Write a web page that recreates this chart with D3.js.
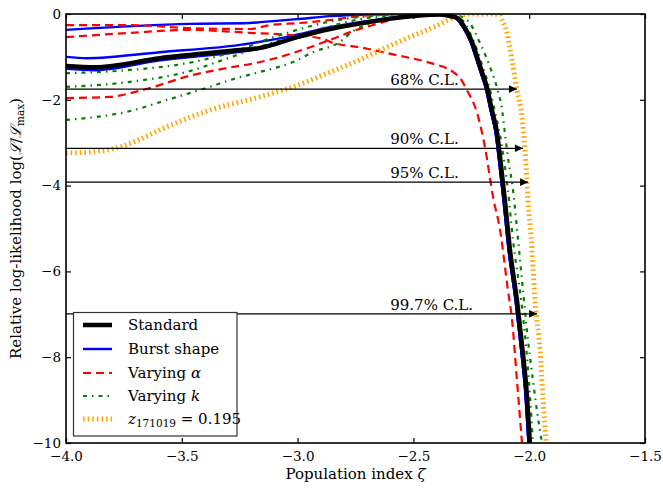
<!DOCTYPE html>
<html><head><meta charset="utf-8">
<script src="https://cdn.jsdelivr.net/npm/d3@7"></script>
<style>body{margin:0;background:#fff}svg{display:block}</style>
</head><body>
<svg id="c" width="663" height="489"></svg>
<script>
// ---------- data ----------
const xTicks = [-4.0, -3.5, -3.0, -2.5, -2.0, -1.5];
const yTicks = [0, -2, -4, -6, -8, -10];

const standard = [[-4.000,-1.21],[-3.875,-1.24],[-3.594,-1.03],[-3.249,-0.84],[-3.162,-0.79],[-3.003,-0.54],[-2.860,-0.35],[-2.718,-0.21],[-2.571,-0.09],[-2.428,-0.02],[-2.385,-0.01],[-2.342,-0.05],[-2.312,-0.09],[-2.277,-0.33],[-2.247,-0.65],[-2.225,-1.00],[-2.204,-1.35],[-2.182,-1.72],[-2.161,-2.24],[-2.139,-2.77],[-2.126,-3.33],[-2.105,-4.34],[-2.083,-5.50],[-2.053,-6.67],[-2.031,-7.72],[-2.010,-8.88],[-1.997,-10.0]];

const burstA = [[-4.000,-0.37],[-3.465,-0.23],[-3.206,-0.21],[-3.162,-0.19],[-3.003,-0.12],[-2.860,-0.05],[-2.687,-0.01],[-2.558,0],[-2.430,0],[-2.360,-0.03],[-2.318,-0.09],[-2.283,-0.33],[-2.253,-0.65],[-2.231,-1.00],[-2.210,-1.35],[-2.188,-1.72],[-2.167,-2.24],[-2.145,-2.77],[-2.132,-3.33],[-2.111,-4.34],[-2.089,-5.50],[-2.059,-6.67],[-2.037,-7.72],[-2.016,-8.88],[-2.003,-10.0]];
const burstB = [[-4.000,-1.00],[-3.909,-1.03],[-3.594,-0.89],[-3.249,-0.72],[-3.033,-0.52],[-2.860,-0.31],[-2.718,-0.18],[-2.571,-0.07],[-2.430,-0.01],[-2.360,-0.03],[-2.318,-0.09],[-2.283,-0.33],[-2.253,-0.65],[-2.231,-1.00],[-2.210,-1.35],[-2.188,-1.72],[-2.167,-2.24],[-2.145,-2.77],[-2.132,-3.33],[-2.111,-4.34],[-2.089,-5.50],[-2.059,-6.67],[-2.037,-7.72],[-2.016,-8.88],[-2.003,-10.0]];
const burstC = [[-4.000,-1.28],[-3.875,-1.31],[-3.594,-1.08],[-3.249,-0.88],[-3.162,-0.81],[-3.003,-0.56],[-2.860,-0.36],[-2.718,-0.22],[-2.571,-0.10],[-2.430,-0.02],[-2.360,-0.03],[-2.318,-0.09],[-2.283,-0.33],[-2.253,-0.65],[-2.231,-1.00],[-2.210,-1.35],[-2.188,-1.72],[-2.167,-2.24],[-2.145,-2.77],[-2.132,-3.33],[-2.111,-4.34],[-2.089,-5.50],[-2.059,-6.67],[-2.037,-7.72],[-2.016,-8.88],[-2.003,-10.0]];

const alphaA = [[-4.000,-0.26],[-3.724,-0.26],[-3.465,-0.33],[-3.206,-0.35],[-3.119,-0.26],[-2.990,-0.21],[-2.860,-0.14],[-2.731,-0.05],[-2.558,0],[-2.430,0],[-2.385,-0.01],[-2.342,-0.05],[-2.312,-0.09],[-2.277,-0.33],[-2.247,-0.65],[-2.225,-1.00],[-2.204,-1.35],[-2.182,-1.72],[-2.161,-2.24],[-2.139,-2.77],[-2.126,-3.33],[-2.105,-4.34],[-2.083,-5.50],[-2.053,-6.67],[-2.031,-7.72],[-2.010,-8.88],[-1.997,-10.0]];
const alphaB = [[-4.000,-0.54],[-3.724,-0.44],[-3.465,-0.37],[-3.206,-0.44],[-3.033,-0.49],[-2.890,-0.58],[-2.860,-0.65],[-2.718,-0.79],[-2.571,-0.96],[-2.428,-1.14],[-2.329,-1.35],[-2.299,-1.49],[-2.269,-1.77],[-2.225,-2.31],[-2.191,-3.10],[-2.156,-4.27],[-2.126,-5.03],[-2.092,-6.43],[-2.074,-7.13],[-2.053,-8.53],[-2.031,-10.0]];
const alphaC = [[-4.000,-1.96],[-3.810,-1.93],[-3.668,-1.77],[-3.452,-1.42],[-3.305,-1.26],[-3.162,-1.12],[-3.020,-0.91],[-2.873,-0.63],[-2.761,-0.40],[-2.657,-0.23],[-2.558,-0.09],[-2.470,-0.02],[-2.385,0],[-2.342,-0.05],[-2.312,-0.09],[-2.277,-0.33],[-2.247,-0.65],[-2.225,-1.00],[-2.204,-1.35],[-2.182,-1.72],[-2.161,-2.24],[-2.139,-2.77],[-2.126,-3.33],[-2.105,-4.34],[-2.083,-5.50],[-2.053,-6.67],[-2.031,-7.72],[-2.010,-8.88],[-1.997,-10.0]];

const kA = [[-4.000,-1.38],[-3.737,-1.31],[-3.452,-1.12],[-3.218,-0.77],[-3.162,-0.65],[-3.033,-0.42],[-2.890,-0.21],[-2.731,-0.07],[-2.558,-0.01],[-2.430,0],[-2.364,0],[-2.290,-0.14],[-2.256,-0.44],[-2.225,-0.84],[-2.199,-1.26],[-2.169,-1.77],[-2.148,-2.28],[-2.126,-2.82],[-2.109,-3.40],[-2.092,-4.10],[-2.070,-5.27],[-2.035,-6.67],[-2.014,-7.72],[-1.997,-8.88],[-1.984,-10.0]];
const kB = [[-4.000,-1.70],[-3.737,-1.59],[-3.452,-1.31],[-3.322,-1.07],[-3.175,-0.79],[-3.033,-0.54],[-2.890,-0.33],[-2.731,-0.12],[-2.558,-0.02],[-2.400,0],[-2.342,0],[-2.269,-0.14],[-2.212,-0.68],[-2.169,-1.24],[-2.139,-1.72],[-2.117,-2.24],[-2.105,-2.77],[-2.092,-3.33],[-2.070,-4.10],[-2.048,-5.27],[-2.027,-6.43],[-2.010,-7.37],[-1.984,-8.53],[-1.967,-9.23],[-1.945,-10.0]];
const kC = [[-4.000,-2.47],[-3.737,-2.28],[-3.538,-1.96],[-3.391,-1.72],[-3.279,-1.52],[-3.162,-1.35],[-3.020,-1.12],[-2.933,-0.89],[-2.817,-0.65],[-2.761,-0.40],[-2.666,-0.19],[-2.536,-0.05],[-2.385,0],[-2.342,-0.05],[-2.312,-0.09],[-2.277,-0.33],[-2.247,-0.65],[-2.225,-1.00],[-2.204,-1.35],[-2.182,-1.72],[-2.161,-2.24],[-2.139,-2.77],[-2.126,-3.33],[-2.105,-4.34],[-2.083,-5.50],[-2.053,-6.67],[-2.031,-7.72],[-2.010,-8.88],[-1.997,-10.0]];

const redshift = [[-4.000,-3.24],[-3.880,-3.21],[-3.767,-3.10],[-3.680,-2.92],[-3.594,-2.70],[-3.378,-2.24],[-3.162,-1.93],[-3.020,-1.70],[-2.817,-1.26],[-2.761,-1.14],[-2.614,-0.77],[-2.472,-0.44],[-2.385,-0.24],[-2.342,-0.12],[-2.299,-0.03],[-2.243,0],[-2.160,0],[-2.126,-0.02],[-2.117,-0.14],[-2.096,-0.44],[-2.074,-1.07],[-2.053,-1.77],[-2.031,-2.40],[-2.018,-3.17],[-2.005,-4.34],[-1.988,-5.50],[-1.975,-6.67],[-1.953,-7.83],[-1.940,-9.00],[-1.927,-10.0]];

const clLevels = [-1.75, -3.13, -3.92, -6.99];
const clEnds   = [-2.053, -2.027, -2.005, -1.966];
const clLabels = ["68% C.L.", "90% C.L.", "95% C.L.", "99.7% C.L."];

// ---------- drawing ----------
const L = 66, R = 645, T = 14, B = 443;
const FONT = "'DejaVu Serif', 'Liberation Serif', serif";
const svg = d3.select('#c');
const x = d3.scaleLinear().domain([-4, -1.5]).range([L, R]);
const y = d3.scaleLinear().domain([-10, 0]).range([B, T]);

const defs = svg.append('defs');
defs.append('clipPath').attr('id', 'clip')
  .append('rect').attr('x', L).attr('y', T).attr('width', R - L).attr('height', B - T);

const line = d3.line().x(d => x(d[0])).y(d => y(d[1])).curve(d3.curveMonotoneX);

const styles = {
  burst:  {stroke: '#0000ff', w: 2.4, dash: null},
  alpha:  {stroke: '#ff0000', w: 2.2, dash: '8,5'},
  k:      {stroke: '#008000', w: 2.2, dash: '4,5,1.5,5'},
  z:      {stroke: '#ffa500', w: 5,   dash: '1.6,3'},
  std:    {stroke: '#000000', w: 4.5, dash: null}
};

const layers = [
  ['burst', burstA], ['burst', burstB], ['burst', burstC],
  ['alpha', alphaA], ['alpha', alphaB], ['alpha', alphaC],
  ['k', kA], ['k', kB], ['k', kC],
  ['z', redshift],
  ['std', standard]
];

const g = svg.append('g').attr('clip-path', 'url(#clip)');
layers.forEach(([k, data]) => {
  const s = styles[k];
  g.append('path').datum(data).attr('d', line)
    .attr('fill', 'none').attr('stroke', s.stroke).attr('stroke-width', s.w)
    .attr('stroke-dasharray', s.dash).attr('stroke-linejoin', 'round');
});

// confidence level arrows
defs.append('marker').attr('id', 'arr')
  .attr('markerUnits', 'userSpaceOnUse').attr('markerWidth', 10).attr('markerHeight', 10)
  .attr('viewBox', '0 0 10 10').attr('refX', 9).attr('refY', 5).attr('orient', 'auto')
  .append('path').attr('d', 'M1,1.2 L9,5 L1,8.8 Z').attr('fill', '#000');

clLevels.forEach((lv, i) => {
  svg.append('line').attr('x1', x(-4)).attr('x2', x(clEnds[i]))
    .attr('y1', y(lv)).attr('y2', y(lv))
    .attr('stroke', '#000').attr('stroke-width', 1.3).attr('marker-end', 'url(#arr)');
  svg.append('text').attr('x', x(-2.6)).attr('y', y(lv) - 4)
    .attr('font-family', FONT).attr('font-size', 15).attr('fill', '#000')
    .text(clLabels[i]);
});

// axes
function styleAxis(sel) {
  sel.select('.domain').remove();
  sel.selectAll('.tick line').attr('stroke', '#000').attr('stroke-width', 1.2);
  sel.selectAll('text').attr('font-family', FONT).attr('font-size', 13.5).attr('fill', '#000');
}
svg.append('g').attr('transform', `translate(0,${B})`)
  .call(d3.axisBottom(x).tickValues(xTicks).tickSize(-5).tickPadding(8).tickFormat(d3.format('.1f')))
  .call(styleAxis);
svg.append('g').attr('transform', `translate(0,${T})`)
  .call(d3.axisTop(x).tickValues(xTicks).tickSize(-5).tickFormat(''))
  .call(styleAxis);
svg.append('g').attr('transform', `translate(${L},0)`)
  .call(d3.axisLeft(y).tickValues(yTicks).tickSize(-5).tickPadding(5).tickFormat(d3.format('d')))
  .call(styleAxis);
svg.append('g').attr('transform', `translate(${R},0)`)
  .call(d3.axisRight(y).tickValues(yTicks).tickSize(-5).tickFormat(''))
  .call(styleAxis);

svg.append('rect').attr('x', L).attr('y', T).attr('width', R - L).attr('height', B - T)
  .attr('fill', 'none').attr('stroke', '#000').attr('stroke-width', 1.6);

// axis labels
svg.append('text').attr('x', (L + R) / 2).attr('y', 479).attr('text-anchor', 'middle')
  .attr('font-family', FONT).attr('font-size', 15)
  .call(t => { t.append('tspan').text('Population index '); t.append('tspan').attr('font-style', 'italic').text('ζ'); });

const yl = svg.append('text').attr('transform', `translate(21,${(T + B) / 2}) rotate(-90)`)
  .attr('text-anchor', 'middle').attr('font-family', FONT).attr('font-size', 15);
yl.append('tspan').text('Relative log-likelihood log(');
yl.append('tspan').attr('font-style', 'italic').text('ℒ');
yl.append('tspan').text('/');
yl.append('tspan').attr('font-style', 'italic').text('ℒ');
yl.append('tspan').attr('font-size', 10.5).attr('dy', 3).text('max');
yl.append('tspan').attr('dy', -3).text(')');

// legend
const lg = svg.append('g');
lg.append('rect').attr('x', 73.5).attr('y', 312.5).attr('width', 163.5).attr('height', 123.5)
  .attr('fill', '#fff').attr('stroke', '#333').attr('stroke-width', 1.2);
const legendRows = [
  {k: 'std',   y: 325, parts: [['Standard', null]]},
  {k: 'burst', y: 349, parts: [['Burst shape', null]]},
  {k: 'alpha', y: 373, parts: [['Varying ', null], ['α', 'i']]},
  {k: 'k',     y: 396, parts: [['Varying ', null], ['k', 'i']]},
  {k: 'z',     y: 419, parts: [['z', 'i'], ['171019', 'sub'], [' = 0.195', 'up']]}
];
legendRows.forEach(r => {
  const s = styles[r.k];
  lg.append('line').attr('x1', 83).attr('x2', 112).attr('y1', r.y).attr('y2', r.y)
    .attr('stroke', s.stroke).attr('stroke-width', s.w).attr('stroke-dasharray', s.dash);
  const t = lg.append('text').attr('x', 128).attr('y', r.y + 5)
    .attr('font-family', FONT).attr('font-size', 15);
  r.parts.forEach(([txt, st]) => {
    const sp = t.append('tspan').text(txt);
    if (st === 'i') sp.attr('font-style', 'italic');
    if (st === 'sub') sp.attr('font-size', 10.5).attr('dy', 3);
    if (st === 'up') sp.attr('dy', -3);
  });
});
</script>
</body></html>
